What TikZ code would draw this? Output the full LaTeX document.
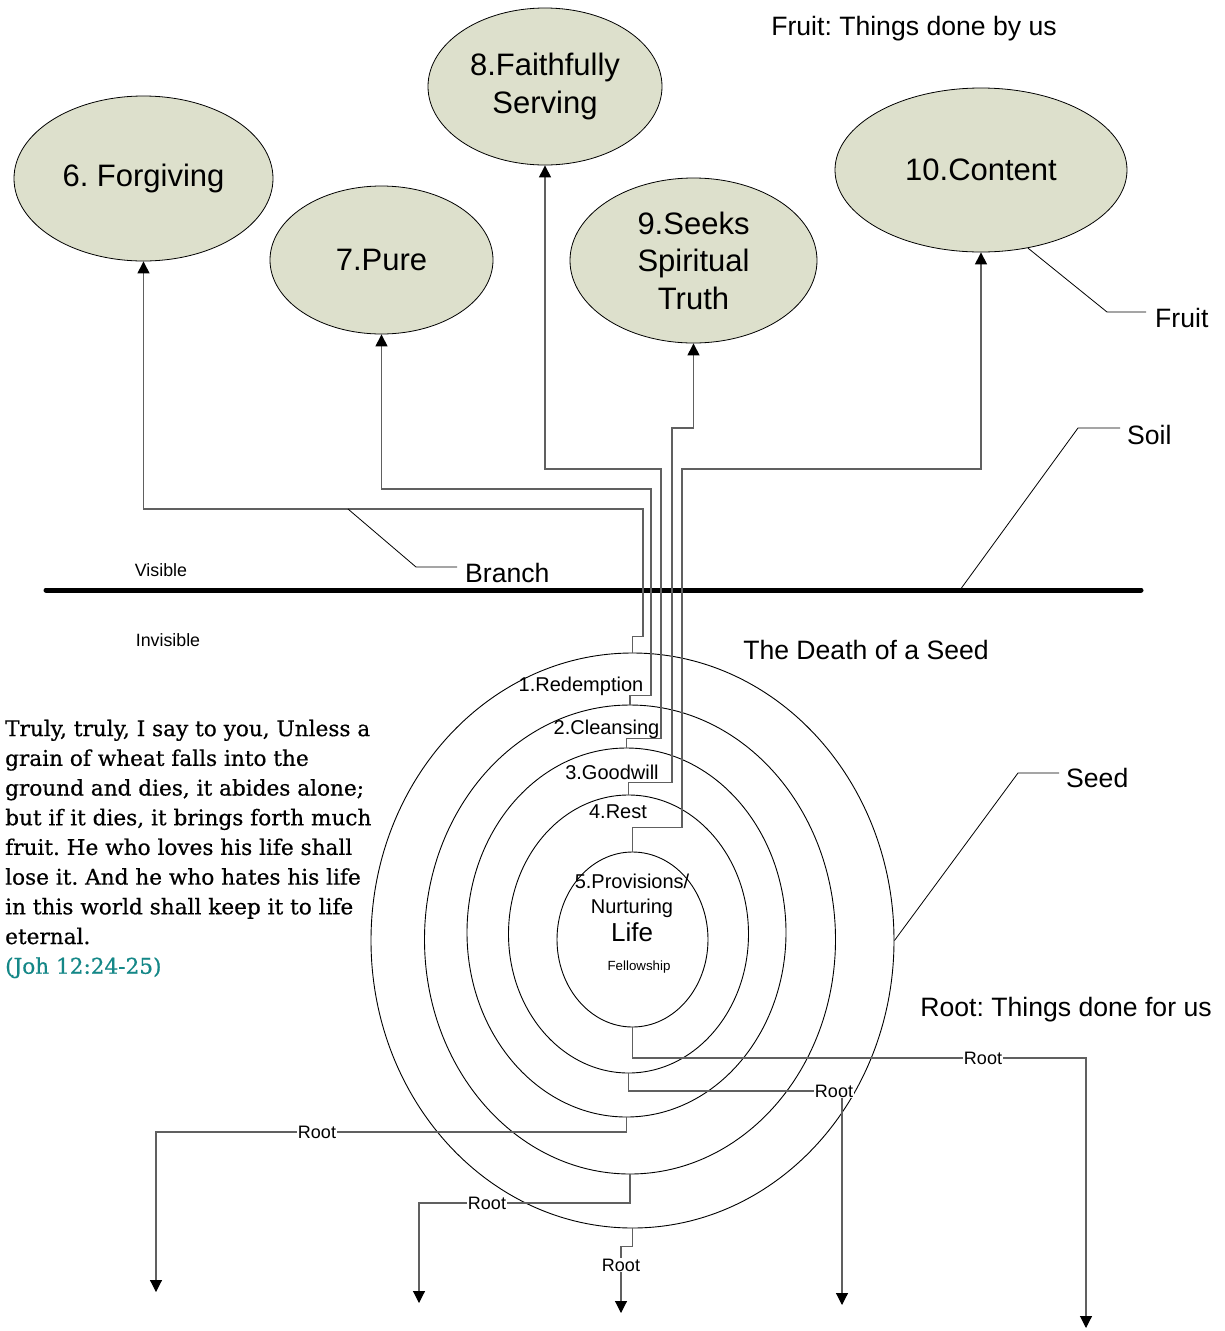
\documentclass[tikz,border=0pt]{standalone}
\usepackage{fontspec}
\setmainfont{Liberation Sans}
\newfontfamily\versefont[FakeBold=0.6]{DejaVu Serif}
\usetikzlibrary{shapes.geometric,arrows.meta}
\definecolor{fruitfill}{RGB}{221,224,204}
\definecolor{stemgray}{RGB}{96,96,96}
\definecolor{versecite}{RGB}{20,135,135}
\frenchspacing
\tikzset{
  fruit/.style={ellipse,draw=black,line width=0.8pt,fill=fruitfill,inner sep=0pt,align=center,font=\fontsize{31}{37.5}\selectfont},
  ring/.style={ellipse,draw=black,line width=0.9pt,inner sep=0pt},
  ringlab/.style={inner sep=0pt,font=\fontsize{20}{25}\selectfont},
  stem/.style={draw=stemgray,line width=1.1pt},
  tip/.style={-{Triangle[width=12pt,length=12pt,color=black]}},
  callout/.style={draw=black,line width=0.8pt},
  biglab/.style={inner sep=0pt,font=\fontsize{26.6}{32}\selectfont},
  sidelab/.style={biglab,anchor=west,inner sep=5pt},
  smalllab/.style={inner sep=0pt,font=\fontsize{17.8}{20}\selectfont},
  rootlab/.style={fill=white,inner sep=1pt,font=\fontsize{18}{22}\selectfont}
}
\begin{document}
\begin{tikzpicture}[x=1pt,y=-1pt]
\useasboundingbox (0,0) rectangle (1225,1331);

\node[fruit,minimum width=259,minimum height=165] (forgive) at (143.5,178.5) {6. Forgiving};
\node[fruit,minimum width=223,minimum height=148] (pure) at (381.5,260) {7.Pure};
\node[fruit,minimum width=234,minimum height=157] (serve) at (545,86.5) {8.Faithfully\\Serving};
\node[fruit,minimum width=247,minimum height=165] (seek) at (693.5,260.5) {9.Seeks\\Spiritual\\Truth};
\node[fruit,minimum width=292,minimum height=164] (content) at (981,170) {10.Content};

\node[ring,minimum width=523,minimum height=575] (r1) at (632.5,940.5) {};
\node[ring,minimum width=411,minimum height=469] (r2) at (630,939.5) {};
\node[ring,minimum width=319,minimum height=369] (r3) at (626.5,932.5) {};
\node[ring,minimum width=240,minimum height=278] (r4) at (628.5,934) {};
\node[ring,minimum width=151,minimum height=175] (r5) at (632.5,939.5) {};

\node[ringlab] (lab1) at (581,686) {1.Redemption};
\node[ringlab] (lab2) at (606.5,729) {2.Cleansing};
\node[ringlab] (lab3) at (612,772) {3.Goodwill};
\node[ringlab] (lab4) at (618,812) {4.Rest};
\node[ringlab,align=center] (lab5) at (632,895.5) {5.Provisions/\\Nurturing};
\node[inner sep=0pt,font=\fontsize{26}{30}\selectfont] (life) at (632,932) {Life};
\node[inner sep=0pt,font=\fontsize{13.3}{16}\selectfont] (fellow) at (639,967) {Fellowship};

\draw[line width=5pt,line cap=round] (46,590) coordinate (gl) -- (1141,590) coordinate (gr);

\draw[stem,tip] (r1.north) -- ++(0,-16) -| (643,509) -| (forgive.south);
\draw[stem,tip] (r2.north) -- ++(0,-9) -| (651,489) -| (pure.south);
\draw[stem,tip] (r3.north) -- ++(0,-9) -| (661,469) -| (serve.south);
\draw[stem,tip] (r4.north) -- ++(0,-12) -| (672,428) -| (seek.south);
\draw[stem,tip] (r5.north) -- ++(0,-24) -| (682,469) -| (content.south);

\node[rootlab] (root5) at (983,1058) {Root};
\node[rootlab] (root4) at (834,1091) {Root};
\node[rootlab] (root3) at (317,1132) {Root};
\node[rootlab] (root2) at (487,1203) {Root};
\node[rootlab] (root1) at (621,1265) {Root};
\coordinate (end5) at (1086,1328);
\coordinate (end4) at (842,1305);
\coordinate (end3) at (156,1292);
\coordinate (end2) at (419,1303);
\coordinate (end1) at (621,1313);
\draw[stem] (r5.south) |- (root5.west);
\draw[stem,tip] (root5.east) -| (end5);
\draw[stem] (r4.south) |- (root4.west);
\draw[stem,tip] (root4.south -| end4) -- (end4);
\draw[stem] (r3.south) |- (root3.east);
\draw[stem,tip] (root3.west) -| (end3);
\draw[stem] (r2.south) |- (root2.east);
\draw[stem,tip] (root2.west) -| (end2);
\draw[stem] (r1.south) -- ++(0,18) -| (root1.north);
\draw[stem,tip] (root1.south) -- (end1);

\node[sidelab] (branch) at (460,573) {Branch};
\node[sidelab] (fruitlab) at (1150,318) {Fruit};
\node[sidelab] (soil) at (1122,435) {Soil};
\node[sidelab] (seed) at (1061,778) {Seed};
\coordinate (bfork) at (348,509);
\coordinate (soilfoot) at (960,590);
\draw[callout] (bfork) -- (416,567) coordinate (bknee) -- (457,567);
\draw[callout] (content.-59) -- (1107,312) coordinate (fknee) -- (1146,312);
\draw[callout] (soilfoot) -- (1078,428) coordinate (sknee) -- (1120,428);
\draw[callout] (r1.east) -- (1018,773) coordinate (dknee) -- (1059,773);

\node[biglab] (fruittitle) at (914,29) {Fruit: Things done by us};
\node[biglab] (roottitle) at (1066,1010) {Root: Things done for us};
\node[biglab] (death) at (866,650) {The Death of a Seed};
\node[smalllab] (visible) at (161,570) {Visible};
\node[smalllab] (invisible) at (168,640) {Invisible};

\node[anchor=north west,inner sep=0pt,align=left,font=\versefont\fontsize{21.6}{29.7}\selectfont] (verse) at (5,719.5) {Truly, truly, I say to you, Unless a\\grain of wheat falls into the\\ground and dies, it abides alone;\\but if it dies, it brings forth much\\fruit. He who loves his life shall\\lose it. And he who hates his life\\in this world shall keep it to life\\eternal.\\\textcolor{versecite}{(Joh 12:24-25)}};
\end{tikzpicture}
\end{document}
